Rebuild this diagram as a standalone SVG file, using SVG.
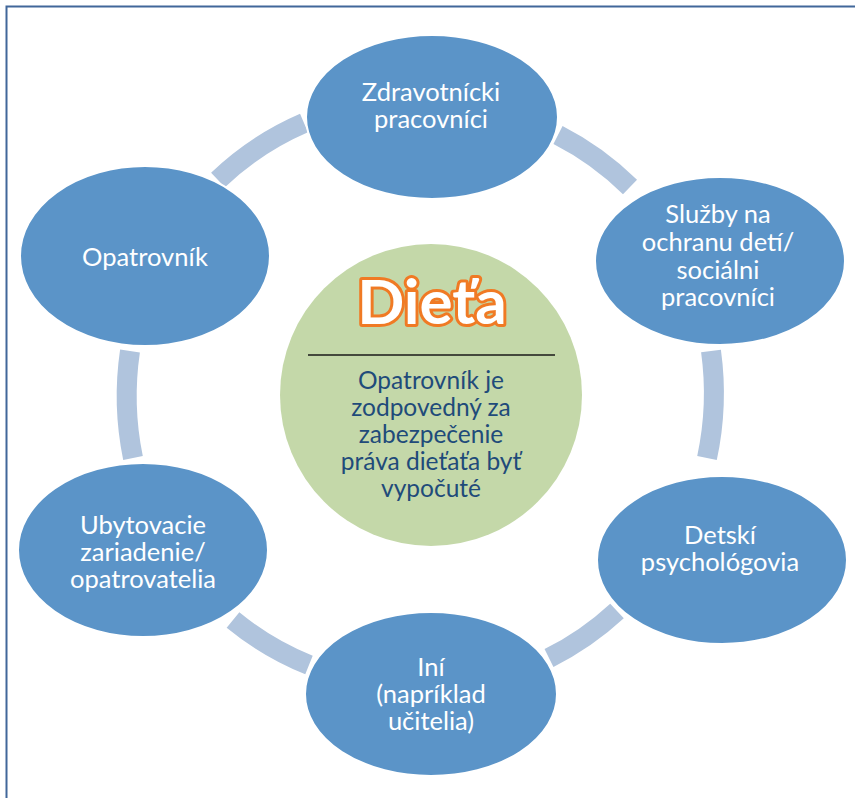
<svg xmlns="http://www.w3.org/2000/svg" width="855" height="798" viewBox="0 0 855 798">
<style>
.node{fill:#5b94c8;stroke:#ffffff;stroke-width:2}
.lbl{font-family:Lato,"Open Sans",sans-serif;font-size:25.5px;fill:#ffffff;text-anchor:middle}
.arc{fill:none;stroke:#b0c4dd;stroke-width:20;stroke-linecap:butt}
.ctr{font-family:Lato,"Open Sans",sans-serif;font-size:24.5px;fill:#1f4b7a;text-anchor:middle}
</style>
<rect width="855" height="798" fill="#ffffff"/>
<path d="M6.5 798 V6.5 H855" fill="none" stroke="#41679a" stroke-width="2"/>
<g id="connectors">
<path class="arc" d="M218 180 A292 300 0 0 1 304 123"/>
<path class="arc" d="M558 135 A292 300 0 0 1 630 187"/>
<path class="arc" d="M711 351 A292 300 0 0 1 707 458"/>
<path class="arc" d="M617 611 A292 300 0 0 1 549 658"/>
<path class="arc" d="M309 665 A292 300 0 0 1 233 620"/>
<path class="arc" d="M133 458 A292 300 0 0 1 130 351"/>
</g>
<g id="center">
<circle cx="431" cy="395" r="151" fill="#c4d8a9"/>
<text x="432" y="324" font-family="Lato,'Open Sans',sans-serif" font-weight="bold" font-size="62" fill="#ffffff" stroke="#f07a24" stroke-width="6" paint-order="stroke" stroke-linejoin="round" text-anchor="middle">Dieťa</text>
<line x1="308" y1="355" x2="555" y2="355" stroke="#1a1a1a" stroke-width="1.5"/>
<text class="ctr"><tspan x="431" y="389">Opatrovník je</tspan><tspan x="431" y="416">zodpovedný za</tspan><tspan x="431" y="443">zabezpečenie</tspan><tspan x="431" y="470">práva dieťaťa byť</tspan><tspan x="431" y="497">vypočuté</tspan></text>
</g>
<g id="n-zdravotnicki">
<ellipse class="node" cx="432" cy="117" rx="126" ry="82"/>
<text class="lbl"><tspan x="431" y="101">Zdravotnícki</tspan><tspan x="431" y="128">pracovníci</tspan></text>
</g>
<g id="n-sluzby">
<ellipse class="node" cx="720" cy="261" rx="125" ry="84"/>
<text class="lbl"><tspan x="718" y="223">Služby na</tspan><tspan x="718" y="251">ochranu detí/</tspan><tspan x="718" y="279">sociálni</tspan><tspan x="718" y="306">pracovníci</tspan></text>
</g>
<g id="n-detski">
<ellipse class="node" cx="722" cy="560" rx="125" ry="84"/>
<text class="lbl"><tspan x="720" y="544">Detskí</tspan><tspan x="720" y="571">psychológovia</tspan></text>
</g>
<g id="n-ini">
<ellipse class="node" cx="431" cy="694" rx="126" ry="82"/>
<text class="lbl"><tspan x="431" y="676">Iní</tspan><tspan x="431" y="703">(napríklad</tspan><tspan x="431" y="730">učitelia)</tspan></text>
</g>
<g id="n-ubytovacie">
<ellipse class="node" cx="143" cy="550" rx="125" ry="87"/>
<text class="lbl"><tspan x="143" y="534">Ubytovacie</tspan><tspan x="143" y="561">zariadenie/</tspan><tspan x="143" y="588">opatrovatelia</tspan></text>
</g>
<g id="n-opatrovnik">
<ellipse class="node" cx="145" cy="256" rx="125" ry="90"/>
<text class="lbl" x="145" y="266">Opatrovník</text>
</g>
</svg>
